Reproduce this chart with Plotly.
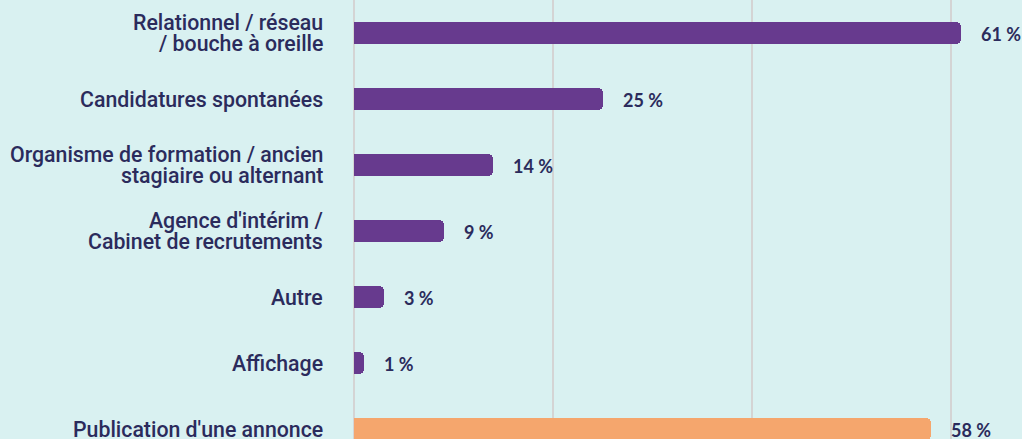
import plotly.graph_objects as go

categories = [
    "Relationnel / réseau<br>/ bouche à oreille",
    "Candidatures spontanées",
    "Organisme de formation / ancien<br>stagiaire ou alternant",
    "Agence d'intérim /<br>Cabinet de recrutements",
    "Autre",
    "Affichage",
    "Publication d'une annonce",
]
values = [61, 25, 14, 9, 3, 1, 58]
labels = ["61 %", "25 %", "14 %", "9 %", "3 %", "1 %", "58 %"]
colors = ["#673a8e"] * 6 + ["#f5a66d"]

TEXT = "#2b2b5c"
BG = "#d9f1f1"
LINE_GAP = 20.5

fig = go.Figure()
fig.add_trace(go.Bar(
    y=categories, x=values, orientation="h",
    marker=dict(color=colors, cornerradius=5, line=dict(width=0)),
    width=0.335,
    hoverinfo="skip",
))

for c, v, t in zip(categories, values, labels):
    fig.add_annotation(
        x=v, y=c, text=t, showarrow=False,
        xanchor="left", yanchor="middle", xshift=18, yshift=-1,
        font=dict(family="Lato", size=18, color=TEXT, weight="bold"),
    )
    lines = c.split("<br>")
    n = len(lines)
    for i, ln in enumerate(lines):
        fig.add_annotation(
            xref="paper", x=0, y=c, text=ln, showarrow=False,
            xanchor="right", yanchor="middle", xshift=-29,
            yshift=((n - 1) / 2 - i) * LINE_GAP,
            font=dict(family="Roboto", size=21.3, color=TEXT, weight=500),
        )

fig.update_layout(
    width=1022, height=439,
    margin=dict(l=354, r=0, t=0, b=0),
    paper_bgcolor=BG, plot_bgcolor=BG,
    showlegend=False,
    bargap=0,
)
fig.update_xaxes(
    range=[0, 67.1], dtick=20, showticklabels=False,
    showgrid=True, gridcolor="#d4d4d4", gridwidth=1.5,
    zeroline=True, zerolinecolor="#d4d4d4", zerolinewidth=2,
)
fig.update_yaxes(
    autorange=False, range=[6.15, -0.5],
    showticklabels=False, ticks="",
    showgrid=False, zeroline=False,
)

fig.write_html(
    "out.html",
    config={"displayModeBar": False},
    post_script="document.body.style.margin='0';document.body.style.overflow='hidden';",
)
